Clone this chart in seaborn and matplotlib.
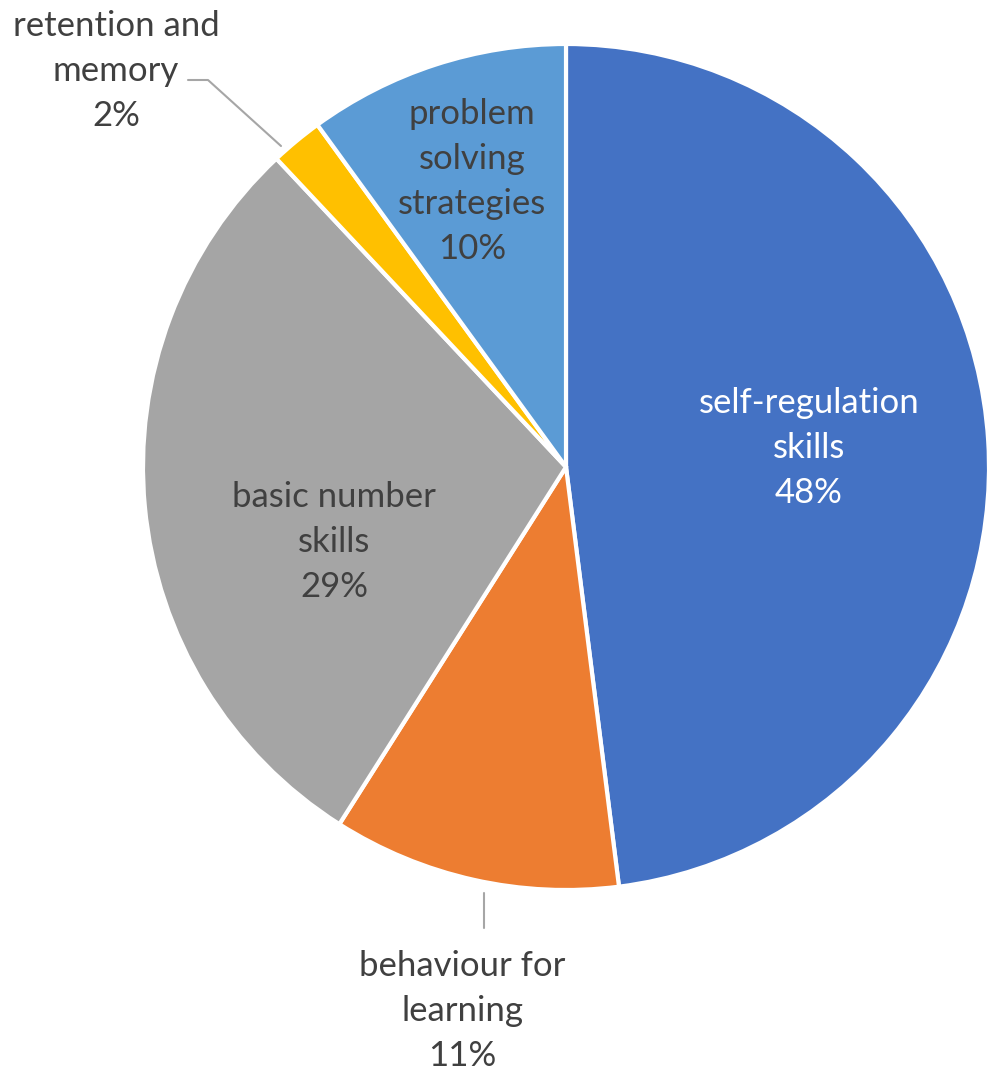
import numpy as np
import matplotlib
matplotlib.use("Agg")
import matplotlib.pyplot as plt
import seaborn as sns

sns.set_theme(style="white")
plt.rcParams['font.family'] = ['Lato', 'DejaVu Sans']

categories = ["self-regulation\nskills", "behaviour for\nlearning", "basic number\nskills",
              "retention and\nmemory", "problem\nsolving\nstrategies"]
values = [48, 11, 29, 2, 10]
colors = ["#4472C4", "#ED7D31", "#A5A5A5", "#FFC000", "#5B9BD5"]
text_colors = ["white", "#404040", "#404040", "#404040", "#404040"]

W, H = 989, 1070
fig = plt.figure(figsize=(W / 100, H / 100), dpi=100)
cx, cy, R = 566, 467, 423
ax = fig.add_axes([(cx - R) / W, (H - cy - R) / H, 2 * R / W, 2 * R / H])
wedges, _ = ax.pie(values, colors=colors, startangle=90, counterclock=False,
                   wedgeprops=dict(edgecolor="white", linewidth=3), radius=1.0)
ax.set_xlim(-1, 1)
ax.set_ylim(-1, 1)
ax.set_aspect("equal")
ax.axis("off")

fs = 25
ls = 1.5
total = sum(values)
labels = [f"{c}\n{round(v / total * 100)}%" for c, v in zip(categories, values)]

def mid(w):
    a = np.deg2rad((w.theta1 + w.theta2) / 2)
    return np.cos(a), np.sin(a)

# inside labels
inside = {0: (0.575, 0.008), 2: (0.55, -0.125), 4: (0.72, -0.01)}
for i, (r, dy) in inside.items():
    mx, my = mid(wedges[i])
    ax.text(r * mx, r * my + dy, labels[i], ha="center", va="center", fontsize=fs,
            color=text_colors[i], linespacing=ls)

# behaviour for learning (outside, below)
lc = "#A6A6A6"
bx = (484 - cx) / R
ax.plot([bx, bx], [(cy - 893) / R, (cy - 928) / R], color=lc, lw=1.5, clip_on=False)
ax.text((462 - cx) / R, (cy - 1011) / R, labels[1], ha="center", va="center",
        fontsize=fs, color=text_colors[1], linespacing=ls, clip_on=False)

# retention and memory (outside, top-left)
ax.plot([(188 - cx) / R, (208 - cx) / R, (281 - cx) / R],
        [(cy - 80) / R, (cy - 80) / R, (cy - 146) / R], color=lc, lw=1.5, clip_on=False)
ax.text((116 - cx) / R, (cy - 71) / R, labels[3], ha="center", va="center",
        fontsize=fs, color=text_colors[3], linespacing=ls, clip_on=False)

fig.savefig("out.png", dpi=100, facecolor="white")
